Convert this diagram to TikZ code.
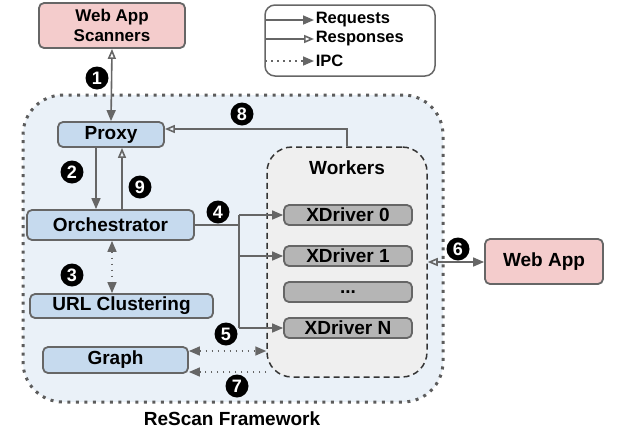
\documentclass[tikz,border=0pt]{standalone}
\usepackage{fontspec}
\setmainfont{Liberation Sans}
\usepackage{tikz}
\usetikzlibrary{arrows.meta,calc,positioning}
\definecolor{lineg}{HTML}{666666}
\definecolor{pinkbox}{HTML}{F4CCCC}
\definecolor{bluebox}{HTML}{C6DAEE}
\definecolor{frameblue}{HTML}{EAF1F8}
\definecolor{workgray}{HTML}{EFEFEF}
\definecolor{drvgray}{HTML}{B5B5B5}

\begin{document}
\begin{tikzpicture}[x=1pt,y=-1pt,
  txt/.style={font=\bfseries\fontsize{19}{21}\selectfont},
  box/.style={draw=lineg,line width=1.8pt,rounded corners=5pt,txt,inner sep=0pt},
  comp/.style={box,fill=bluebox},
  ext/.style={box,fill=pinkbox},
  drv/.style={box,fill=drvgray,minimum width=128pt,minimum height=20pt},
  num/.style={circle,fill=black,text=white,inner sep=0pt,minimum size=23pt,font=\bfseries\fontsize{18}{18}\selectfont},
  req/.style={draw=lineg,line width=1.6pt,-{Triangle[length=11pt,width=9pt]}},
  resp/.style={draw=lineg,line width=1.6pt,-{Triangle[open,length=10pt,width=8pt]}},
  ipc/.style={draw=lineg,line width=1.6pt,dash pattern=on 1.6pt off 4.4pt,-{Triangle[length=11pt,width=9pt]}}
]
\useasboundingbox (0,0) rectangle (625,432);
% framework and legend
\node[fill=frameblue,draw=lineg!90!black,line width=3pt,dash pattern=on 3pt off 5.5pt,rounded corners=40pt,minimum width=420pt,minimum height=307pt] (frame) at (233,248.5) {};
\node[txt] (framelbl) at (232,419) {ReScan Framework};
\node[draw=lineg,line width=1.5pt,rounded corners=10pt,minimum width=170pt,minimum height=71pt] (legend) at (350,40.5) {};
% boxes
\node[ext,align=center,font=\bfseries\fontsize{17}{20}\selectfont,minimum width=146pt,minimum height=45pt] (scanners) at (112,25.5) {Web App\\Scanners};
\node[comp,minimum width=106pt,minimum height=25pt] (proxy) at (111,134.5) {Proxy};
\node[comp,minimum width=167pt,minimum height=30pt] (orch) at (110.5,225) {Orchestrator};
\node[comp,minimum width=183pt,minimum height=24pt] (urlc) at (121.5,306) {URL Clustering};
\node[comp,minimum width=145pt,minimum height=26pt] (graph) at (115.5,360) {Graph};
\node[draw=black!80,line width=1.5pt,dashed,dash pattern=on 6pt off 4pt,fill=workgray,rounded corners=25pt,minimum width=160pt,minimum height=230pt] (workers) at (347,262) {};
\node[txt] (worklbl) at (347,168) {Workers};
\node[drv] (xd0) at (348,215) {XDriver 0};
\node[drv] (xd1) at (348,256) {XDriver 1};
\node[drv] (xdd) at (348,292) {...};
\node[drv] (xdN) at (348,328) {XDriver N};
\node[ext,minimum width=118pt,minimum height=45pt] (webapp) at (544,261.5) {Web App};
% legend entries
\coordinate (lg1) at (265,20);
\coordinate (lg2) at (265,39);
\coordinate (lg3) at (265,61);
\draw[req] (lg1) -- ++(49,0) node[right,inner sep=1pt,font=\bfseries\fontsize{16.5}{18}\selectfont] (lgreq) {Requests};
\draw[resp] (lg2) -- ++(49,0) node[right,inner sep=1pt,font=\bfseries\fontsize{16.5}{18}\selectfont] (lgresp) {Responses};
\draw[ipc] (lg3) -- ++(49,0) node[right,inner sep=1pt,font=\bfseries\fontsize{16.5}{18}\selectfont] (lgipc) {IPC};
% connectors
\draw[req,{Triangle[open,length=10pt,width=8pt]}-{Triangle[length=11pt,width=9pt]}] (scanners.south) -- (proxy.north);
\draw[req] ([xshift=-15pt]proxy.south) -- ([xshift=-15pt]proxy.south |- orch.north);
\draw[resp] ([xshift=11.5pt]orch.north) -- ([xshift=11.5pt]orch.north |- proxy.south);
\draw[ipc,{Triangle[length=11pt,width=9pt]}-{Triangle[length=11pt,width=9pt]}] ([xshift=1.5pt]orch.south) -- ([xshift=1.5pt]orch.south |- urlc.north);
\coordinate (fork) at (239,225);
\draw[draw=lineg,line width=1.6pt] (orch.east) -- (fork);
\draw[draw=lineg,line width=1.6pt] (fork |- xd0.west) -- (fork |- xdN.west);
\draw[req] (fork |- xd0.west) -- (xd0.west);
\draw[req] (fork |- xd1.west) -- (xd1.west);
\draw[req] (fork |- xdN.west) -- (xdN.west);
\draw[ipc,{Triangle[length=11pt,width=9pt]}-{Triangle[length=11pt,width=9pt]}] ([yshift=9pt]graph.east) -- ([yshift=9pt]graph.east -| workers.west);
\draw[ipc] ([yshift=-12pt]graph.east -| workers.west) -- ([yshift=-12pt]graph.east);
\draw[req,{Triangle[open,length=10pt,width=8pt]}-{Triangle[length=11pt,width=9pt]}] (workers.east) -- (workers.east -| webapp.west);
\draw[resp] (workers.north) |- ([yshift=5.5pt]proxy.east);
% step numbers
\node[num] (n1) at (97,78) {1};
\node[num] (n2) at (72,172) {2};
\node[num] (n3) at (72,275) {3};
\node[num] (n4) at (218,212) {4};
\node[num] (n5) at (226,334) {5};
\node[num] (n6) at (458,249) {6};
\node[num] (n7) at (237,386) {7};
\node[num] (n8) at (242,114) {8};
\node[num] (n9) at (140,187) {9};
\end{tikzpicture}
\end{document}
